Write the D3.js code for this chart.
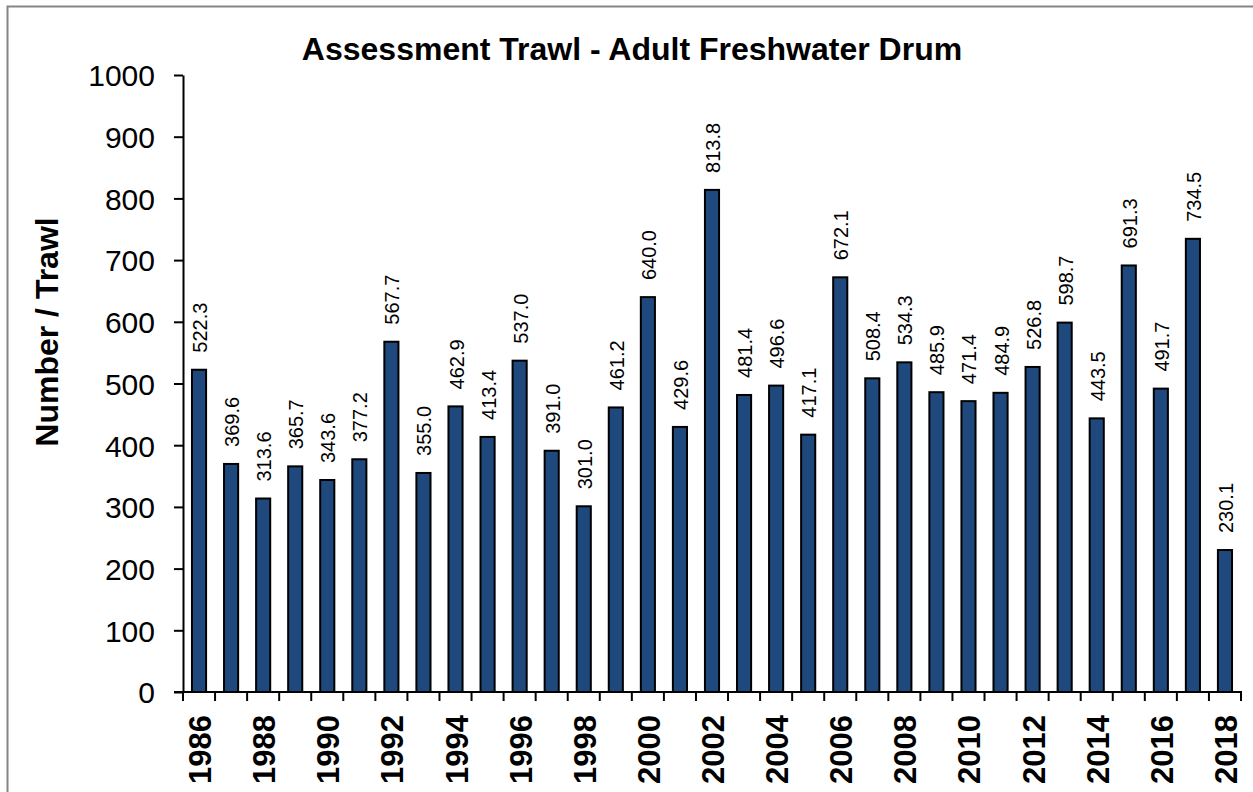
<!DOCTYPE html>
<html>
<head>
<meta charset="utf-8">
<script src="https://cdn.jsdelivr.net/npm/d3@7"></script>
<style>
  body { margin: 0; background: #fff; }
  text { font-family: "Liberation Sans", Arial, sans-serif; fill: #000; }
</style>
</head>
<body>
<div id="chart"></div>
<script>
var years = [1986, 1987, 1988, 1989, 1990, 1991, 1992, 1993, 1994, 1995, 1996,
  1997, 1998, 1999, 2000, 2001, 2002, 2003, 2004, 2005, 2006, 2007, 2008,
  2009, 2010, 2011, 2012, 2013, 2014, 2015, 2016, 2017, 2018];
var catch_per_trawl = [522.3, 369.6, 313.6, 365.7, 343.6, 377.2, 567.7, 355.0,
  462.9, 413.4, 537.0, 391.0, 301.0, 461.2, 640.0, 429.6, 813.8, 481.4, 496.6,
  417.1, 672.1, 508.4, 534.3, 485.9, 471.4, 484.9, 526.8, 598.7, 443.5, 691.3,
  491.7, 734.5, 230.1];
var yTicks = [0, 100, 200, 300, 400, 500, 600, 700, 800, 900, 1000];
var labelYears = years.filter(function(d) { return d % 2 === 0; });

var W = 1253, H = 792;
var margin = {top: 75, right: 12, bottom: 100, left: 183};
var width = 1241 - margin.left,
    height = 692 - margin.top;

var svg = d3.select("#chart").append("svg")
    .attr("width", W)
    .attr("height", H);

// outer chart border
svg.append("rect")
    .attr("x", 7.5).attr("y", 6.5)
    .attr("width", 1260).attr("height", 800)
    .attr("fill", "none")
    .attr("stroke", "#858585")
    .attr("stroke-width", 2);

var g = svg.append("g")
    .attr("transform", "translate(" + margin.left + "," + margin.top + ")");

var x = d3.scaleBand().domain(years).range([0, width]).paddingInner(0.56).paddingOuter(0.28);
var xTick = d3.scaleBand().domain(years).range([0, width]);
var y = d3.scaleLinear().domain([0, 1000]).range([height, 0]);

// bars
g.selectAll("rect.bar")
    .data(years)
    .enter().append("rect")
    .attr("class", "bar")
    .attr("x", function(d) { return x(d); })
    .attr("width", x.bandwidth())
    .attr("y", function(d, i) { return y(catch_per_trawl[i]); })
    .attr("height", function(d, i) { return height - y(catch_per_trawl[i]); })
    .attr("fill", "#1f497d")
    .attr("stroke", "#000")
    .attr("stroke-width", 2);

// value labels
g.selectAll("text.val")
    .data(years)
    .enter().append("text")
    .attr("class", "val")
    .attr("transform", function(d, i) {
        return "translate(" + (x(d) + x.bandwidth() / 2 + 8) + "," + (y(catch_per_trawl[i]) - 17) + ") rotate(-90)";
    })
    .attr("text-anchor", "start")
    .style("font-size", "20px")
    .text(function(d, i) { return catch_per_trawl[i].toFixed(1); });

// y axis
var yAxis = g.append("g")
    .call(d3.axisLeft(y).tickValues(yTicks).tickFormat(d3.format("d"))
        .tickSize(9).tickPadding(19).tickSizeOuter(0));
yAxis.selectAll("text").style("font-size", "30px").attr("dy", "0.36em");
yAxis.selectAll("line, path").attr("stroke", "#000").attr("stroke-width", 2);

// x axis: tick marks between categories
var xAxisG = g.append("g").attr("transform", "translate(0," + height + ")");
xAxisG.append("line")
    .attr("x1", -9).attr("x2", width + 1)
    .attr("stroke", "#000").attr("stroke-width", 2);
xAxisG.selectAll("line.tk")
    .data(years.concat(["end"]))
    .enter().append("line")
    .attr("class", "tk")
    .attr("x1", function(d) { return d === "end" ? width : xTick(d); })
    .attr("x2", function(d) { return d === "end" ? width : xTick(d); })
    .attr("y1", 0).attr("y2", 9)
    .attr("stroke", "#000").attr("stroke-width", 2);
xAxisG.selectAll("text.yr")
    .data(labelYears)
    .enter().append("text")
    .attr("class", "yr")
    .attr("transform", function(d) {
        return "translate(" + (xTick(d) + xTick.bandwidth() / 2 + 12) + ",23) rotate(-90)";
    })
    .attr("text-anchor", "end")
    .style("font-size", "31px")
    .style("font-weight", "bold")
    .text(function(d) { return d; });

// y axis title
svg.append("text")
    .attr("transform", "translate(58,332) rotate(-90)")
    .attr("text-anchor", "middle")
    .style("font-size", "32px")
    .style("font-weight", "bold")
    .text("Number / Trawl");

// chart title
svg.append("text")
    .attr("x", 632)
    .attr("y", 60)
    .attr("text-anchor", "middle")
    .style("font-size", "32px")
    .style("font-weight", "bold")
    .text("Assessment Trawl - Adult Freshwater Drum");
</script>
</body>
</html>
